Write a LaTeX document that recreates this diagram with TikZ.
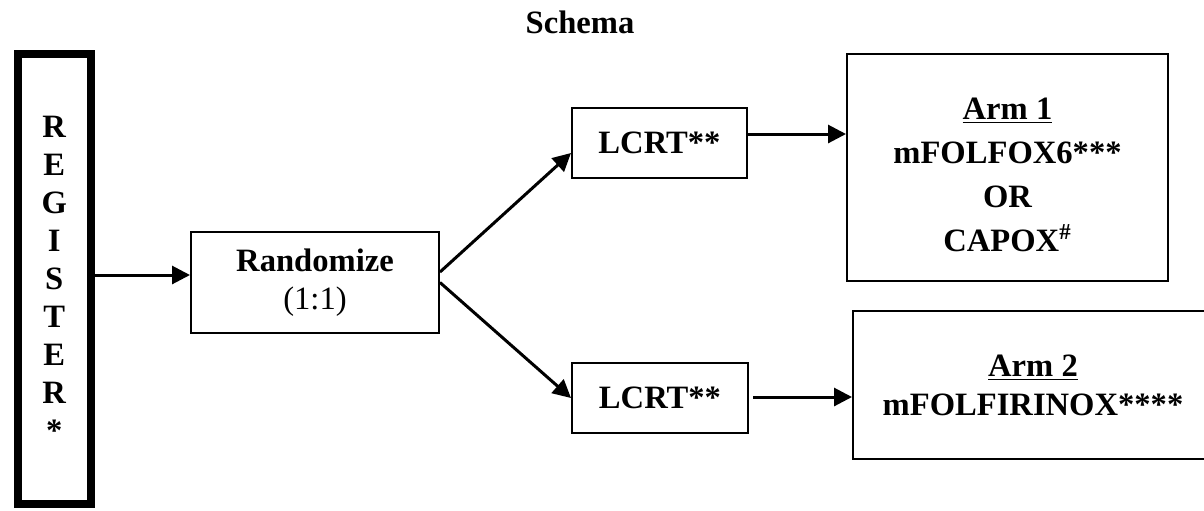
\documentclass[tikz,border=0pt]{standalone}
\usepackage{fontspec}
\setmainfont{Liberation Serif}
\usetikzlibrary{arrows.meta}
\tikzset{
  box/.style={draw,line width=1pt,align=center,inner sep=0pt,font=\bfseries\fontsize{16.3}{22}\selectfont},
  link/.style={line width=1.5pt,-{Triangle[length=9pt,width=9pt]}}
}
\begin{document}
\begin{tikzpicture}[x=0.5pt,y=-0.5pt]
      \useasboundingbox (0,0) rectangle (1204,510);
      \node[anchor=base,font=\bfseries\fontsize{16.3}{22}\selectfont] (title) at (580,33) {Schema};
      % boxes, px coordinates measured from the top left
      \node[box,line width=4pt,font=\bfseries\fontsize{16.3}{19}\selectfont,
            minimum width=36.25pt,minimum height=225pt] (reg) at (54.25,279) {R\\E\\G\\I\\S\\T\\E\\R\\*};
      \node[box,minimum width=124pt,minimum height=50.5pt] (rand) at (315,282.5)
            {Randomize\\[-3pt]\mdseries(1:1)};
      \node[box,minimum width=87.5pt,minimum height=35pt] (lcrtA) at (659.5,143) {LCRT**};
      \node[box,minimum width=88pt,minimum height=35pt] (lcrtB) at (660,398) {LCRT**};
      \node[box,minimum width=160.5pt,minimum height=113.5pt] (armA) at (1007.5,167.5)
            {\rule{0pt}{18.5pt}\underline{Arm 1}\\mFOLFOX6***\\OR\\CAPOX\textsuperscript{\#}};
      \node[box,font=\bfseries\fontsize{16.3}{19.5}\selectfont,
            minimum width=180pt,minimum height=74pt] (armB) at (1033,385)
            {\underline{Arm 2}\\mFOLFIRINOX****};
      % connectors
      \coordinate (regout) at ([yshift=2pt]reg.east);
      \coordinate (lcrtAout) at ([yshift=4.5pt]lcrtA.east);
      \coordinate (lcrtBout) at ([xshift=2pt,yshift=0.5pt]lcrtB.east);
      \draw[link] (regout) -- (regout -| rand.west);
      \draw[link] ([yshift=5.25pt]rand.east) -- ([yshift=-5pt]lcrtA.west);
      \draw[link] (rand.east) -- (lcrtB.west);
      \draw[link] (lcrtAout) -- (lcrtAout -| armA.west);
      \draw[link] (lcrtBout) -- (lcrtBout -| armB.west);
    \end{tikzpicture}
\end{document}
